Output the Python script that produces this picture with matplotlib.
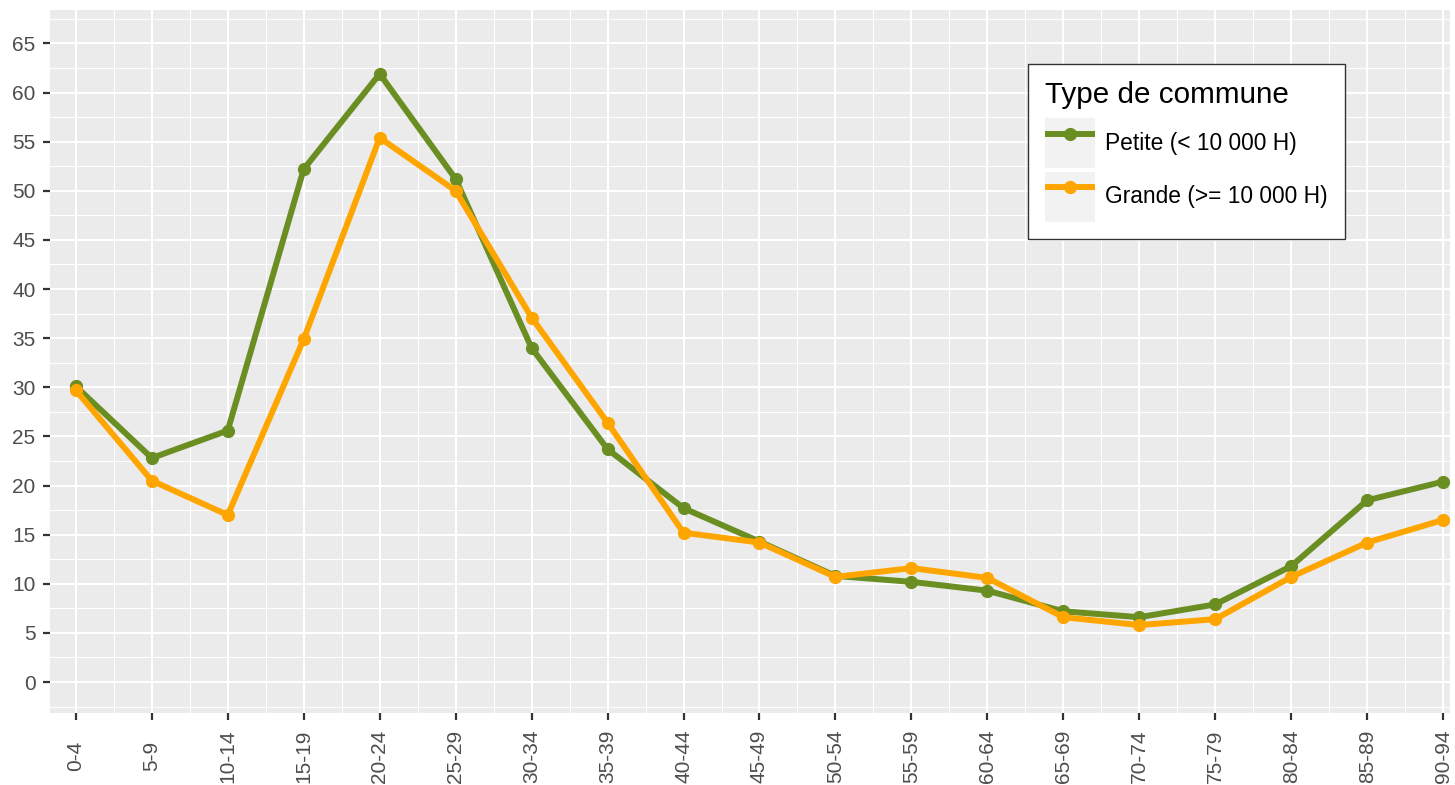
import matplotlib
matplotlib.use("Agg")
import matplotlib.pyplot as plt
from matplotlib.patches import Rectangle
from matplotlib.legend_handler import HandlerLine2D
from matplotlib.ticker import MultipleLocator

categories = ["0-4", "5-9", "10-14", "15-19", "20-24", "25-29", "30-34", "35-39",
              "40-44", "45-49", "50-54", "55-59", "60-64", "65-69", "70-74",
              "75-79", "80-84", "85-89", "90-94"]
petite = [30.1, 22.8, 25.6, 52.2, 61.9, 51.2, 34.0, 23.7, 17.7, 14.3, 10.8,
          10.2, 9.3, 7.2, 6.6, 7.9, 11.8, 18.5, 20.4]
grande = [29.7, 20.5, 17.0, 34.9, 55.4, 50.0, 37.1, 26.4, 15.2, 14.2, 10.7,
          11.6, 10.6, 6.6, 5.8, 6.4, 10.7, 14.2, 16.5]
series_labels = ["Petite (< 10 000 H)", "Grande (>= 10 000 H)"]
legend_title = "Type de commune"
yticks = list(range(0, 70, 5))

GREEN = "#6B8E23"
ORANGE = "#FFA500"

plt.rcParams["font.family"] = ["Liberation Sans", "DejaVu Sans"]

fig = plt.figure(figsize=(14.55, 7.85), dpi=100)
ax = fig.add_axes([50 / 1455, 72 / 785, 1400 / 1455, 703 / 785])
ax.set_facecolor("#EBEBEB")

x = list(range(len(categories)))
l1, = ax.plot(x, petite, color=GREEN, lw=4.3, marker="o", ms=8.5, label=series_labels[0],
              solid_capstyle="butt", zorder=3)
l2, = ax.plot(x, grande, color=ORANGE, lw=4.3, marker="o", ms=8.5, label=series_labels[1],
              solid_capstyle="butt", zorder=3)

ax.set_xlim(-0.34, 18.09)
ax.set_ylim(-3.15, 68.4)
ax.set_xticks(x)
ax.set_xticklabels(categories, rotation=90, va="center", ha="center")
ax.set_yticks(yticks)
ax.xaxis.set_minor_locator(MultipleLocator(0.5))
ax.yaxis.set_minor_locator(MultipleLocator(2.5))
ax.grid(which="major", color="white", lw=1.5)
ax.grid(which="minor", color="white", lw=0.75)
ax.set_axisbelow(True)
for s in ax.spines.values():
    s.set_visible(False)
ax.tick_params(which="major", length=5, width=1.6, color="#333333",
               labelsize=15, labelcolor="#4D4D4D", pad=5.5)
ax.tick_params(axis="x", which="major", pad=26)
ax.tick_params(which="minor", length=0)


class KeyHandler(HandlerLine2D):
    def create_artists(self, legend, orig_handle, xdescent, ydescent, width, height,
                       fontsize, trans):
        arts = super().create_artists(legend, orig_handle, xdescent, ydescent, width,
                                      height, fontsize, trans)
        rect = Rectangle((-xdescent, -ydescent), width, height, facecolor="#F2F2F2",
                         edgecolor="none", transform=trans)
        return [rect] + list(arts)


leg = ax.legend(handles=[l1, l2], title=legend_title, loc="upper left",
                bbox_to_anchor=((1028 - 50) / 1400, (713 - 64) / 703),
                borderaxespad=0,
                fontsize=16.4, title_fontsize=21.3, frameon=True, fancybox=False,
                edgecolor="#333333", facecolor="white", framealpha=1,
                handlelength=2.2, handleheight=3.0, handletextpad=0.43,
                labelspacing=0.14, borderpad=0.76, markerscale=1.0,
                handler_map={l1: KeyHandler(), l2: KeyHandler()})
leg.get_frame().set_linewidth(1.0)
leg._legend_box.align = "left"
leg._legend_box.sep = 6.5
leg.set_zorder(5)

fig.savefig("out.png", dpi=100)
